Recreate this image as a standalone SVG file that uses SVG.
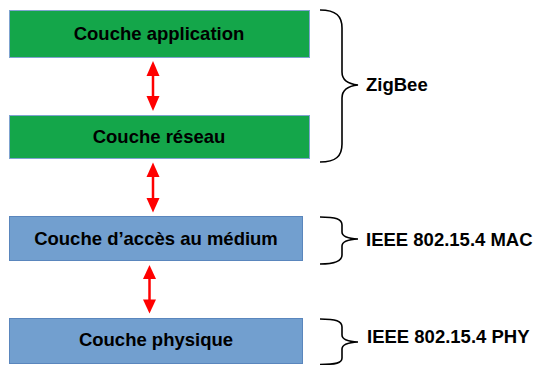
<svg xmlns="http://www.w3.org/2000/svg" width="536" height="365" viewBox="0 0 536 365">
<defs>
<style>
.green{fill:#14a64a;stroke:#7fa3cf;stroke-width:1}
.blue{fill:#729fcf;stroke:#5a86bd;stroke-width:1}
.lbl{font-family:"Liberation Sans",Arial,sans-serif;font-weight:bold;font-size:18.5px;fill:#000}
.mid{text-anchor:middle}
.brace{fill:none;stroke:#000;stroke-width:1.6}
.shaft{stroke:#ff0000;stroke-width:2.5}
.head{fill:#ff0000}
</style>
</defs>
<rect width="536" height="365" fill="#fff"/>
<g id="node-application">
<rect class="green" x="9.5" y="10.5" width="300" height="47"/>
<text class="lbl mid" x="159" y="40">Couche application</text>
</g>
<g id="node-reseau">
<rect class="green" x="9.5" y="115.5" width="300" height="43"/>
<text class="lbl mid" x="159" y="143">Couche réseau</text>
</g>
<g id="node-mac">
<rect class="blue" x="9.5" y="216.5" width="293" height="44"/>
<text class="lbl mid" x="156" y="245">Couche d’accès au médium</text>
</g>
<g id="node-phy">
<rect class="blue" x="9.5" y="318.5" width="293" height="45"/>
<text class="lbl mid" x="156" y="346">Couche physique</text>
</g>
<g id="connectors">
<g>
<line class="shaft" x1="153" y1="74" x2="153" y2="98"/>
<polygon class="head" points="153,61 159.5,76 146.5,76"/>
<polygon class="head" points="153,111 159.5,96 146.5,96"/>
</g>
<g>
<line class="shaft" x1="153" y1="175" x2="153" y2="199"/>
<polygon class="head" points="153,162.5 159.5,177 146.5,177"/>
<polygon class="head" points="153,212.5 159.5,198 146.5,198"/>
</g>
<g>
<line class="shaft" x1="149.5" y1="277" x2="149.5" y2="301"/>
<polygon class="head" points="149.5,265 156,279 143,279"/>
<polygon class="head" points="149.5,313.5 156,299.5 143,299.5"/>
</g>
</g>
<g id="brace-zigbee">
<path class="brace" d="M320,10 C336,10 342,16 342,28 L342,72 C342,80 348,84 358,85 C348,86 342,90 342,98 L342,144 C342,156 336,162 320,162"/>
<text class="lbl" x="366" y="91">ZigBee</text>
</g>
<g id="brace-mac">
<path class="brace" d="M320,217 C336,217 342,219 342,225 L342,232 C342,236 348,238.5 358,239 C348,239.5 342,242 342,246 L342,255 C342,261 336,264 320,264"/>
<text class="lbl" x="366" y="246">IEEE 802.15.4 MAC</text>
</g>
<g id="brace-phy">
<path class="brace" d="M320,319 C336,319 342,321 342,327 L342,335 C342,339 348,341.5 358,342 C348,342.5 342,345 342,349 L342,358 C342,363 336,364.5 320,364.5"/>
<text class="lbl" x="367" y="343">IEEE 802.15.4 PHY</text>
</g>
</svg>
